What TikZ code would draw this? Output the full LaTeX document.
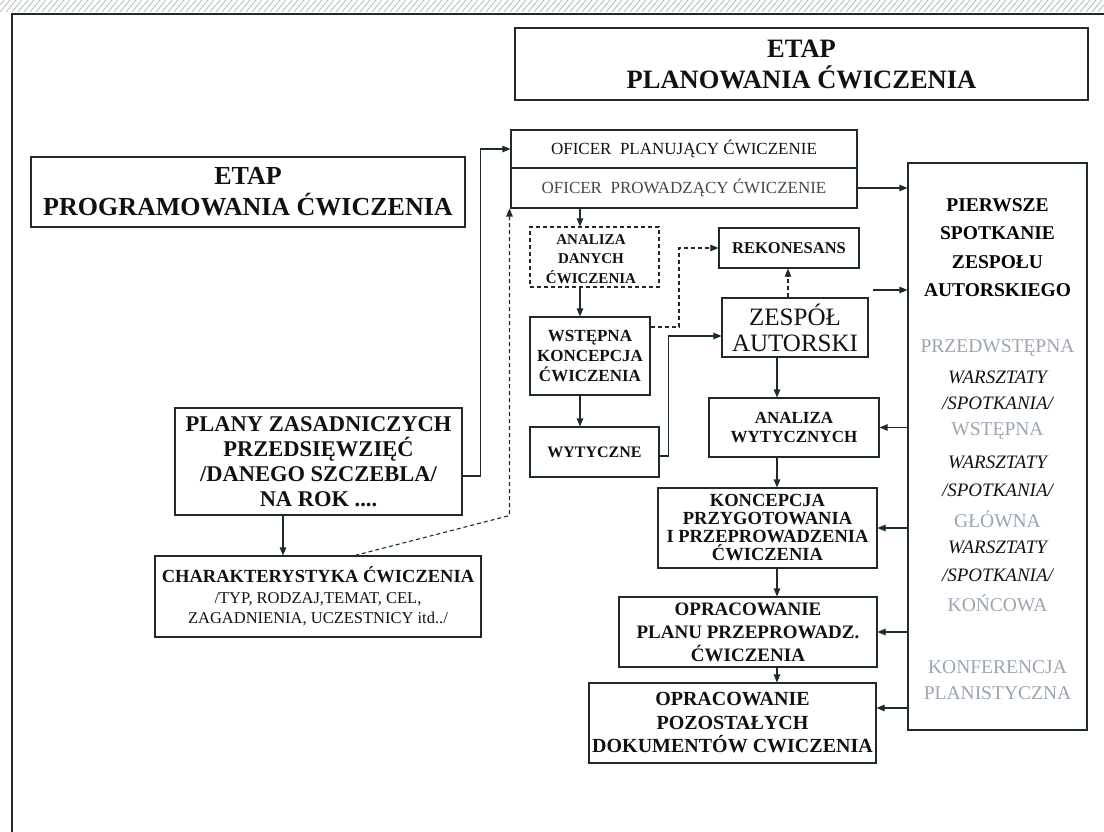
\documentclass[tikz,border=0pt]{standalone}
\usepackage{fontspec}
\setmainfont{Liberation Serif}
\usetikzlibrary{arrows.meta,calc}
\definecolor{ink}{HTML}{1E2B2B}
\definecolor{txt}{HTML}{111111}
\definecolor{faded}{HTML}{9AA5AF}
\definecolor{hatchc}{HTML}{A8B2BC}
\begin{document}
\begin{tikzpicture}[x=1pt,y=-1pt,
  box/.style={draw=ink, line width=1.1pt, inner sep=0pt, align=center, text=txt},
  dbox/.style={box, dashed, dash pattern=on 4pt off 3pt},
  arr/.style={draw=ink, line width=1.1pt, -{Triangle[length=8pt,width=6.5pt]}},
  darr/.style={arr, dash pattern=on 4pt off 3pt},
  fTitle/.style={font=\fontsize{26.5}{31}\selectfont\bfseries},
  fOfc/.style={font=\fontsize{17}{20}\selectfont},
  fHead/.style={font=\fontsize{19.5}{28.3}\selectfont\bfseries},
  fIt/.style={font=\fontsize{19}{27}\selectfont\itshape, text=txt},
  fGray/.style={font=\fontsize{19.5}{27}\selectfont, text=faded},
  lbl/.style={inner sep=0pt, anchor=center}
]
\useasboundingbox (0,0) rectangle (1104,832);

% hatched strip along the top edge
\begin{scope}
  \clip (0,0) rectangle (1104,12);
  \foreach \i in {-12,-6,...,1110}
    \draw[hatchc, line width=0.7pt] (\i,12) -- (\i+10,0);
\end{scope}
% sheet frame
\draw[ink, line width=1.8pt] (12,832) -- (12,14) -- (1104,14);

% stage titles
\node[box, fTitle, minimum width=573pt, minimum height=72pt] (titleP) at (801.5,64)
  {ETAP\\PLANOWANIA ĆWICZENIA};
\node[box, font=\fontsize{26}{31}\selectfont\bfseries, minimum width=434pt, minimum height=70pt] (titleL) at (248,192)
  {ETAP\\PROGRAMOWANIA ĆWICZENIA};

% officers
\node[box, fOfc, minimum width=346pt, minimum height=38pt] (ofp) at (684,149)
  {OFICER\ \ PLANUJĄCY ĆWICZENIE};
\node[box, fOfc, text=black!72, minimum width=346pt, minimum height=40pt] (ofw) at (684,188)
  {OFICER\ \ PROWADZĄCY ĆWICZENIE};

% first meeting of the authors' team
\node[box, minimum width=179pt, minimum height=567pt] (big) at (997.5,446.5) {};
\node[lbl, fHead, align=center] (bhead) at (997.5,247.5)
  {PIERWSZE\\SPOTKANIE\\ZESPOŁU\\AUTORSKIEGO};
\node[lbl, fGray] (g1) at (997.5,348) {PRZEDWSTĘPNA};
\node[lbl, fIt] (w1) at (997.5,377) {WARSZTATY};
\node[lbl, fIt] (s1) at (997.5,403) {/SPOTKANIA/};
\node[lbl, fGray] (g2) at (997.5,431) {WSTĘPNA};
\node[lbl, fIt] (w2) at (997.5,462) {WARSZTATY};
\node[lbl, fIt] (s2) at (997.5,490) {/SPOTKANIA/};
\node[lbl, fGray] (g3) at (997.5,519) {GŁÓWNA};
\node[lbl, fIt] (w3) at (997.5,547) {WARSZTATY};
\node[lbl, fIt] (s3) at (997.5,575) {/SPOTKANIA/};
\node[lbl, fGray] (g4) at (997.5,603) {KOŃCOWA};
\node[lbl, fGray] (k1) at (997.5,667) {KONFERENCJA};
\node[lbl, fGray] (k2) at (997.5,693) {PLANISTYCZNA};

% planning steps
\node[box, font=\fontsize{16.5}{20}\selectfont\bfseries, minimum width=140pt, minimum height=40pt] (rek) at (789,248) {REKONESANS};
\node[dbox, minimum width=129pt, minimum height=60pt] (adc) at (594.5,257) {};
\node[lbl, font=\fontsize{15}{19.5}\selectfont\bfseries, align=center, text=txt] (adct) at (591,259)
  {ANALIZA\\DANYCH\\ĆWICZENIA};
\node[box, font=\fontsize{17}{20}\selectfont\bfseries, minimum width=120pt, minimum height=78pt] (wkc) at (590,356)
  {WSTĘPNA\\KONCEPCJA\\ĆWICZENIA};
\node[box, font=\fontsize{16}{20}\selectfont\bfseries, minimum width=129pt, minimum height=50pt] (wyt) at (594.5,452) {WYTYCZNE};
\node[box, font=\fontsize{25}{26}\selectfont, minimum width=146pt, minimum height=59pt] (zes) at (795,327.5)
  {ZESPÓŁ\\AUTORSKI};
\node[box, font=\fontsize{17}{19}\selectfont\bfseries, minimum width=170pt, minimum height=59pt] (anw) at (794,427.5)
  {ANALIZA\\WYTYCZNYCH};
\node[box, font=\fontsize{18.5}{18}\selectfont\bfseries, minimum width=219pt, minimum height=80pt] (kpp) at (767.5,528)
  {KONCEPCJA\\PRZYGOTOWANIA\\I PRZEPROWADZENIA\\ĆWICZENIA};
\node[box, font=\fontsize{19}{23}\selectfont\bfseries, minimum width=258pt, minimum height=70pt] (opp) at (748,632)
  {OPRACOWANIE\\PLANU PRZEPROWADZ.\\ĆWICZENIA};
\node[box, font=\fontsize{20}{23.5}\selectfont\bfseries, minimum width=287pt, minimum height=80pt] (opd) at (732.5,723)
  {OPRACOWANIE\\POZOSTAŁYCH\\DOKUMENTÓW CWICZENIA};

% programming stage inputs
\node[box, font=\fontsize{22.5}{25}\selectfont\bfseries, minimum width=287pt, minimum height=107pt] (plz) at (318.5,461.5)
  {PLANY ZASADNICZYCH\\PRZEDSIĘWZIĘĆ\\/DANEGO SZCZEBLA/\\NA ROK ....};
\node[box, font=\fontsize{16.5}{20.5}\selectfont, minimum width=326pt, minimum height=81pt] (chr) at (318,596.5)
  {\textbf{\fontsize{18.5}{20.5}\selectfont CHARAKTERYSTYKA ĆWICZENIA}\\
   /TYP, RODZAJ,TEMAT, CEL,\\
   ZAGADNIENIA, UCZESTNICY itd../};

% helper columns
\coordinate (lx) at (580,0);
\coordinate (dx) at (679,0);
\coordinate (sx) at (777,0);
\coordinate (fa) at (873,290);

% connectors
\draw[arr] ([yshift=-14.5pt]plz.east) -- ++(18,0) |- (ofp.west);
\draw[arr] ([xshift=-35.5pt]plz.south) -- ([xshift=-35.5pt]plz.south |- chr.north);
\draw[darr] ([xshift=37pt]chr.north) -- ([xshift=-1pt]ofw.south west |- plz.south)
  -- ([xshift=-1pt]ofw.south west);
\draw[arr] (ofw.east) -- (ofw.east -| big.west);
\draw[arr] (lx |- ofw.south) -- (lx |- adc.north);
\draw[arr] (lx |- adc.south) -- (lx |- wkc.north);
\draw[arr] (lx |- wkc.south) -- (lx |- wyt.north);
\draw[darr] ([yshift=29pt]wkc.east) -- ([yshift=29pt]wkc.east -| dx) |- (rek.west);
\draw[arr] ([yshift=-4pt]wyt.east) -- ++(9,0) |- ([yshift=-8.5pt]zes.west);
\draw[darr] ([xshift=-7pt]zes.north) -- ([xshift=-7pt]zes.north |- rek.south);
\draw[arr] (sx |- zes.south) -- (sx |- anw.north);
\draw[arr] (sx |- anw.south) -- (sx |- kpp.north);
\draw[arr] (sx |- kpp.south) -- (sx |- opp.north);
\draw[arr] (sx |- opp.south) -- (sx |- opd.north);
\draw[arr] (fa) -- (fa -| big.west);
\draw[arr] (big.west |- anw.east) -- (anw.east);
\draw[arr] (big.west |- kpp.east) -- (kpp.east);
\draw[arr] (big.west |- opp.east) -- (opp.east);
\draw[arr] ([yshift=15pt]opd.east -| big.west) -- ([yshift=15pt]opd.east);
\end{tikzpicture}
\end{document}
